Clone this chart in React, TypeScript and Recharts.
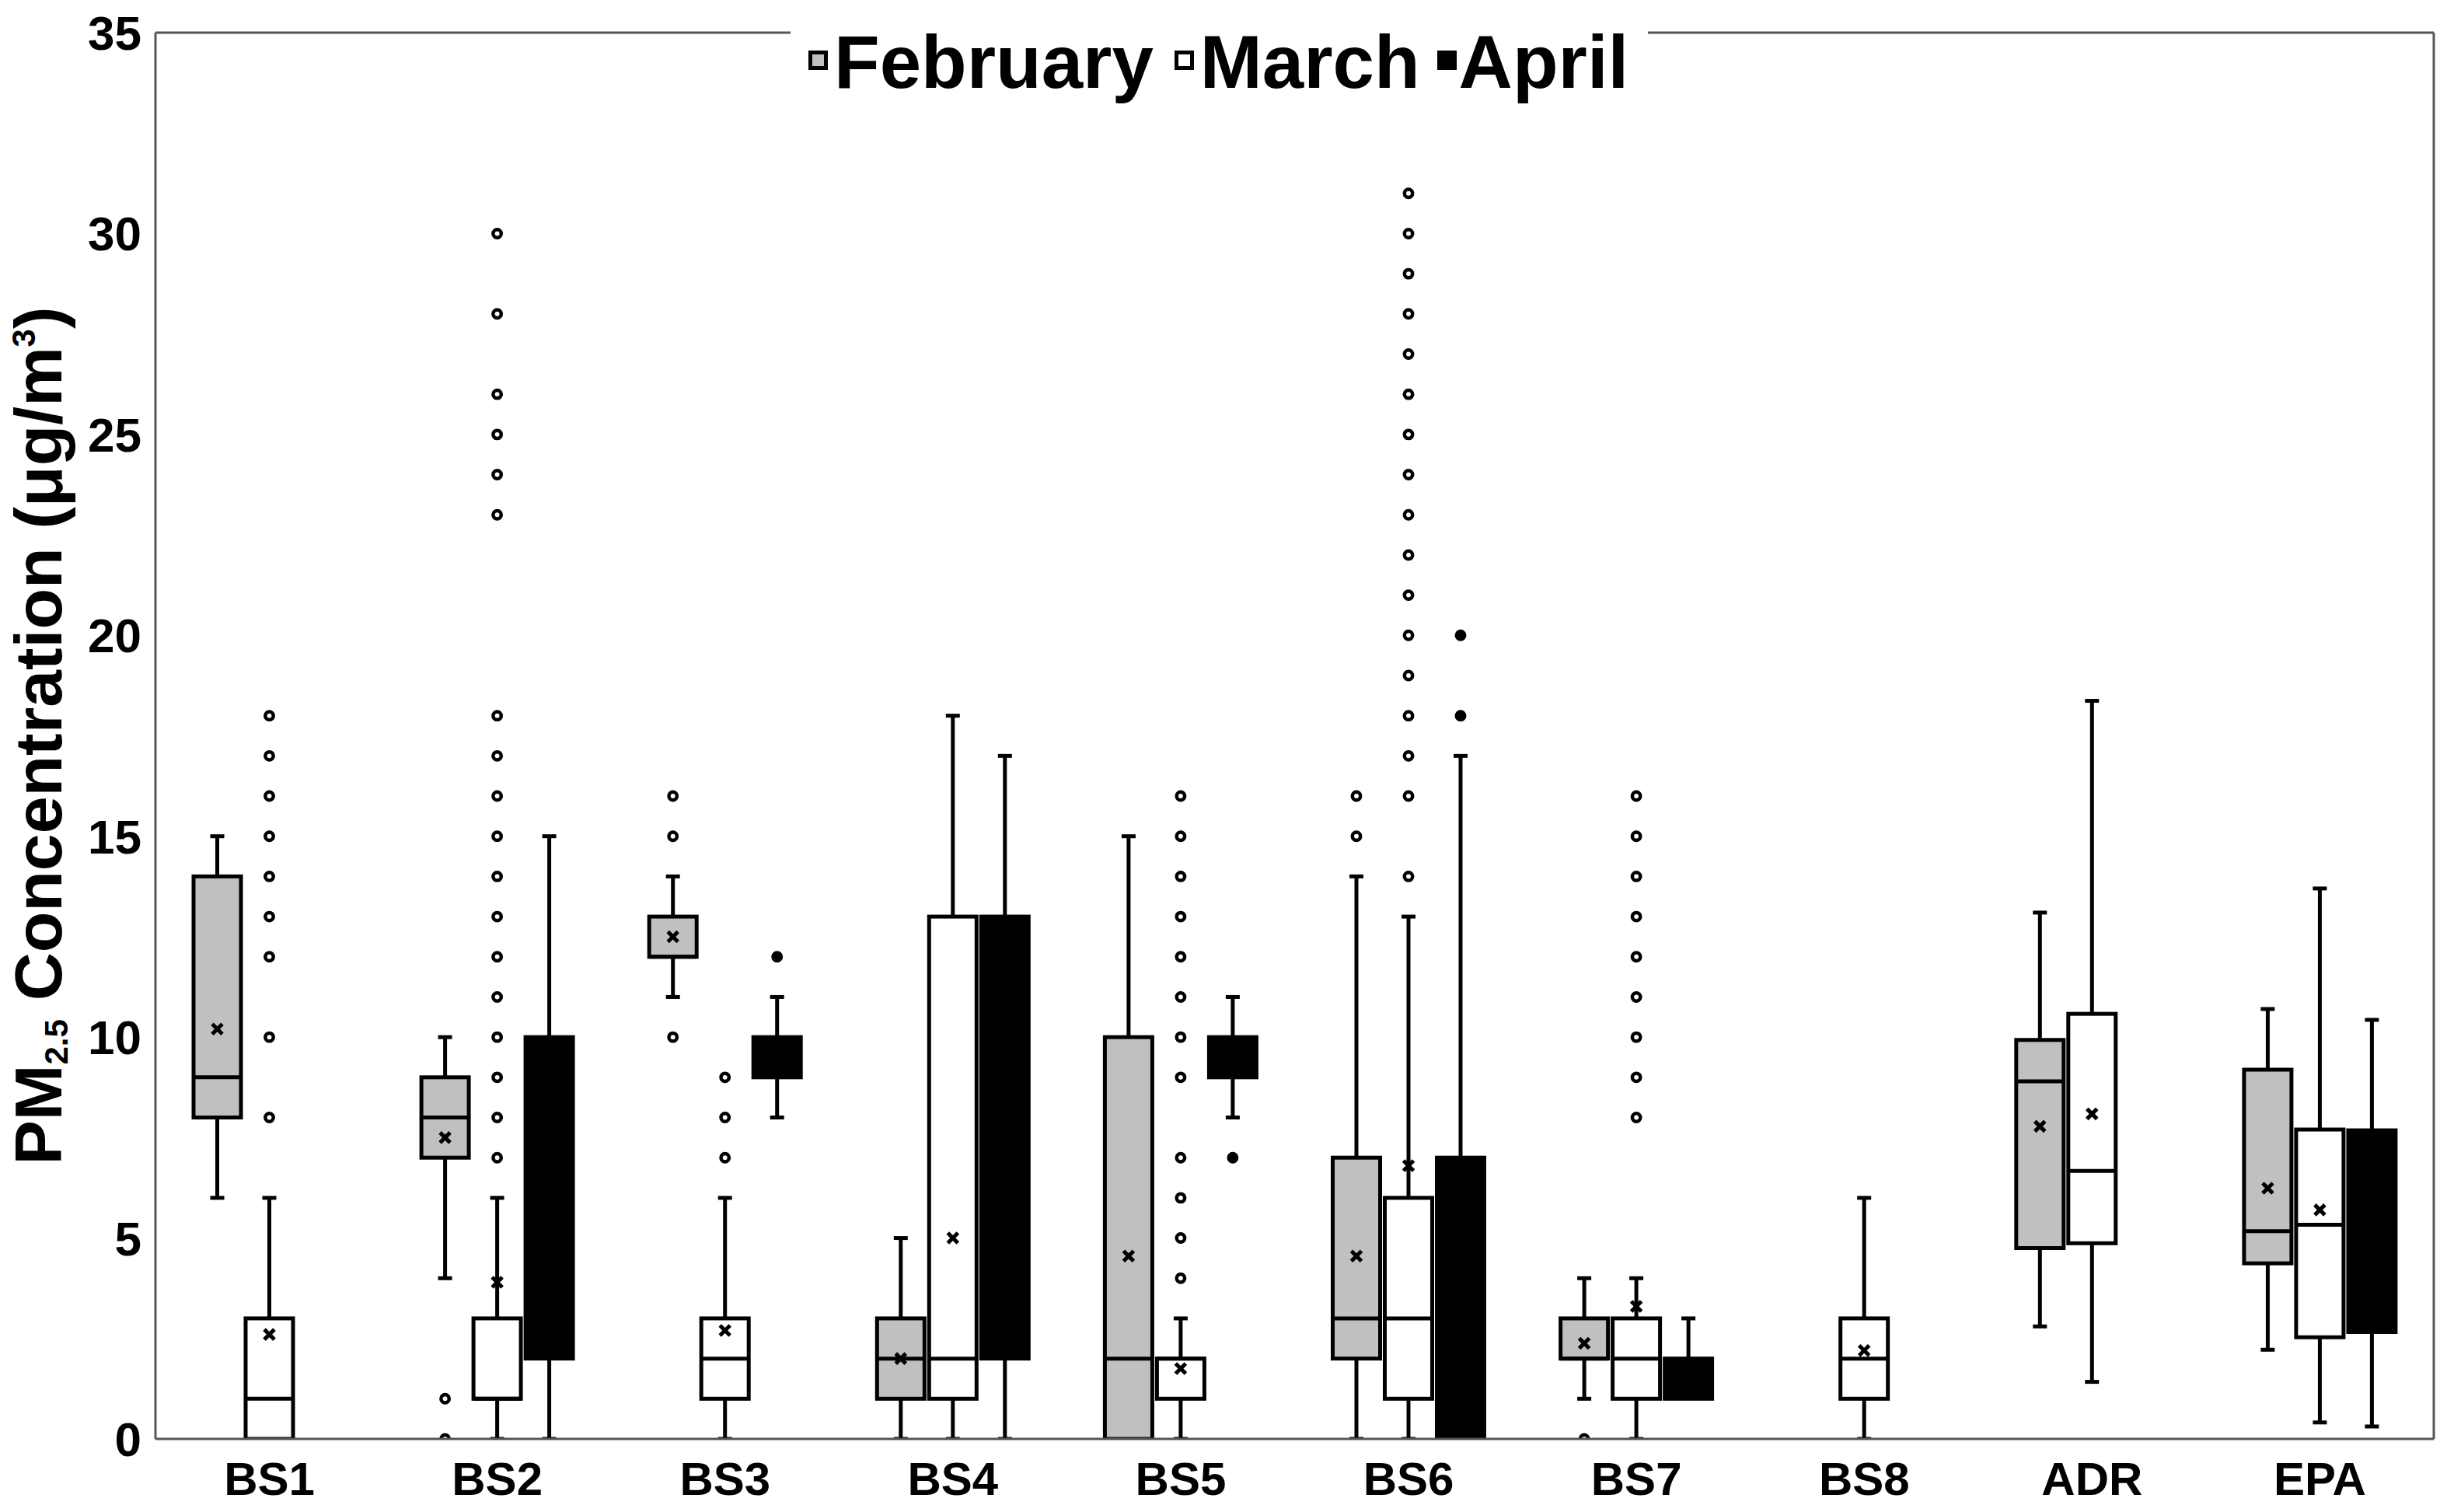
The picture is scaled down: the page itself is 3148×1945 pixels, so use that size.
import React from 'react';
import { ComposedChart, Bar, XAxis, YAxis } from 'recharts';

const FONT = "'Liberation Sans', Arial, Helvetica, sans-serif";

const categories = ['BS1', 'BS2', 'BS3', 'BS4', 'BS5', 'BS6', 'BS7', 'BS8', 'ADR', 'EPA'];
const yTicks = [0, 5, 10, 15, 20, 25, 30, 35];
const seriesNames = ['February', 'March', 'April'];
const seriesFills = ['#c0c0c0', '#ffffff', '#000000'];
const outlierFills = ['#ffffff', '#ffffff', '#000000'];

// February
const febMin = [6, 4, 11, 0, 0, 0, 1, null, 2.8, 2.22];
const febQ1 = [8, 7, 12, 1, 0, 2, 2, null, 4.75, 4.37];
const febMedian = [9, 8, 12, 2, 2, 3, 2, null, 8.9, 5.17];
const febQ3 = [14, 9, 13, 3, 10, 7, 3, null, 9.93, 9.19];
const febMax = [15, 10, 14, 5, 15, 14, 4, null, 13.1, 10.7];
const febMean = [10.2, 7.5, 12.5, 2.0, 4.55, 4.55, 2.38, null, 7.78, 6.24];
const febOutliers = [[], [0, 1], [10, 15, 16], [], [], [15, 16], [0], [], [], []];

// March
const marMin = [0, 0, 0, 0, 0, 0, 0, 0, 1.42, 0.41];
const marQ1 = [0, 1, 1, 1, 1, 1, 1, 1, 4.87, 2.53];
const marMedian = [1, 1, 2, 2, 2, 3, 2, 2, 6.67, 5.33];
const marQ3 = [3, 3, 3, 13, 2, 6, 3, 3, 10.58, 7.7];
const marMax = [6, 6, 6, 18, 3, 13, 4, 6, 18.37, 13.7];
const marMean = [2.6, 3.9, 2.7, 5.0, 1.75, 6.8, 3.3, 2.2, 8.09, 5.7];
const marOutliers = [
  [8, 10, 12, 13, 14, 15, 16, 17, 18],
  [7, 8, 9, 10, 11, 12, 13, 14, 15, 16, 17, 18, 23, 24, 25, 26, 28, 30],
  [7, 8, 9],
  [],
  [4, 5, 6, 7, 9, 10, 11, 12, 13, 14, 15, 16],
  [14, 16, 17, 18, 19, 20, 21, 22, 23, 24, 25, 26, 27, 28, 29, 30, 31],
  [8, 9, 10, 11, 12, 13, 14, 15, 16],
  [],
  [],
  [],
];

// April
const aprMin = [null, 0, 8, 0, 8, 0, 1, null, null, 0.31];
const aprQ1 = [null, 2, 9, 2, 9, 0, 1, null, null, 2.66];
const aprMedian = [null, 5, 9.5, 5, 9.5, 3, 1.5, null, null, 5.3];
const aprQ3 = [null, 10, 10, 13, 10, 7, 2, null, null, 7.68];
const aprMax = [null, 15, 11, 17, 11, 17, 3, null, null, 10.43];
const aprMean = [null, 6, 9.6, 6.5, 9.4, 4.5, 1.6, null, null, 5.4];
const aprOutliers = [[], [], [12], [], [7], [18, 20], [], [], [], []];

type Stats = { min: number; q1: number; median: number; q3: number; max: number; mean: number; outliers: number[] };

const buildStats = (
  mins: (number | null)[], q1s: (number | null)[], meds: (number | null)[], q3s: (number | null)[],
  maxs: (number | null)[], means: (number | null)[], outs: number[][], i: number
): Stats | null => {
  if (mins[i] == null) return null;
  return {
    min: mins[i] as number, q1: q1s[i] as number, median: meds[i] as number, q3: q3s[i] as number,
    max: maxs[i] as number, mean: means[i] as number, outliers: outs[i],
  };
};

const data = categories.map((name, i) => ({
  name,
  feb: buildStats(febMin, febQ1, febMedian, febQ3, febMax, febMean, febOutliers, i),
  mar: buildStats(marMin, marQ1, marMedian, marQ3, marMax, marMean, marOutliers, i),
  apr: buildStats(aprMin, aprQ1, aprMedian, aprQ3, aprMax, aprMean, aprOutliers, i),
}));

const seriesKeys = ['feb', 'mar', 'apr'];

const makeBoxShape = (key: string, fill: string, dotFill: string) => (props: any) => {
  const { x, y, width, height, payload } = props;
  const s: Stats | null = payload ? payload[key] : null;
  if (!s || !isFinite(y) || !isFinite(height) || !isFinite(x)) return <g />;
  const top = Math.min(y, y + height);
  const bottom = Math.max(y, y + height);
  const span = s.max - s.min;
  const py = (v: number) => bottom - ((bottom - top) * (v - s.min)) / span;
  const cx = x + width / 2;
  const sw = 5;
  const capHalf = 9;
  const boxTop = py(s.q3);
  const boxBottom = py(s.q1);
  const my = py(s.mean);
  const mk = 6.5;
  return (
    <g>
      {s.max > s.q3 && <line x1={cx} x2={cx} y1={py(s.max)} y2={boxTop} stroke="#000" strokeWidth={sw} />}
      {s.q1 > s.min && <line x1={cx} x2={cx} y1={boxBottom} y2={py(s.min)} stroke="#000" strokeWidth={sw} />}
      {s.max > s.q3 && <line x1={cx - capHalf} x2={cx + capHalf} y1={py(s.max)} y2={py(s.max)} stroke="#000" strokeWidth={sw} />}
      {s.q1 > s.min && <line x1={cx - capHalf} x2={cx + capHalf} y1={py(s.min)} y2={py(s.min)} stroke="#000" strokeWidth={sw} />}
      <rect x={x} y={boxTop} width={width} height={Math.max(0, boxBottom - boxTop)} fill={fill} stroke="#000" strokeWidth={sw} />
      <line x1={x} x2={x + width} y1={py(s.median)} y2={py(s.median)} stroke="#000" strokeWidth={sw} />
      <line x1={cx - mk} x2={cx + mk} y1={my - mk} y2={my + mk} stroke="#000" strokeWidth={5} />
      <line x1={cx - mk} x2={cx + mk} y1={my + mk} y2={my - mk} stroke="#000" strokeWidth={5} />
      {s.outliers.map((o, j) => (
        <circle key={j} cx={cx} cy={py(o)} r={5.2} fill={dotFill} stroke="#000" strokeWidth={4.5} />
      ))}
    </g>
  );
};

const shapes = seriesKeys.map((k, i) => makeBoxShape(k, seriesFills[i], outlierFills[i]));

const renderYLabel = (props: any) => {
  const vb = props.viewBox || { x: 0, y: 42, width: 200, height: 1809 };
  const cx = vb.x + 79;
  const cy = vb.y + vb.height / 2;
  return (
    <text
      x={cx}
      y={cy}
      transform={`rotate(-90, ${cx}, ${cy})`}
      textAnchor="middle"
      fontSize={86}
      fontWeight="bold"
      fontFamily={FONT}
      fill="#000"
    >
      PM
      <tspan fontSize={42} dy={8}>2.5</tspan>
      <tspan dy={-8}> Concentration (μg/m</tspan>
      <tspan fontSize={42} dy={-34}>3</tspan>
      <tspan dy={34}>)</tspan>
    </text>
  );
};

const borderStroke = { stroke: '#555555', strokeWidth: 3 };

const LegendBox = () => (
  <div
    style={{
      position: 'absolute',
      left: 1017,
      top: 10,
      width: 1103,
      height: 125,
      background: '#fff',
      zIndex: 2,
    }}
  >
    <div
      style={{
        position: 'absolute',
        left: 23,
        top: 22,
        height: 96,
        display: 'flex',
        flexDirection: 'row',
        alignItems: 'flex-start',
        fontFamily: FONT,
        fontWeight: 'bold',
        fontSize: 96,
        lineHeight: '96px',
        color: '#000',
        whiteSpace: 'nowrap',
      }}
    >
      {seriesNames.map((n, i) => (
        <React.Fragment key={n}>
          <span
            style={{
              display: 'inline-block',
              boxSizing: 'border-box',
              width: 25,
              height: 25,
              marginTop: 33,
              border: '5px solid #000',
              background: seriesFills[i],
              marginRight: i === 2 ? 3 : 8,
            }}
          />
          <span style={{ marginRight: i === 0 ? 27 : i === 1 ? 22 : 0 }}>{n}</span>
        </React.Fragment>
      ))}
    </div>
  </div>
);

export default function App() {
  return (
    <div style={{ position: 'relative', width: 3148, height: 1945, background: '#fff' }}>
      <style>{`body{margin:0;background:#fff;}`}</style>
      <ComposedChart
        width={3148}
        height={1945}
        data={data}
        margin={{ top: 41, right: 0, bottom: 0, left: 0 }}
        barSize={61}
        barGap={6}
      >
        <XAxis
          dataKey="name"
          height={94}
          axisLine={borderStroke}
          tickLine={false}
          tickSize={0}
          tickMargin={29}
          interval={0}
          tick={{ fill: '#000', fontSize: 60, fontWeight: 'bold', fontFamily: FONT }}
        />
        <XAxis
          xAxisId="top"
          orientation="top"
          dataKey="name"
          height={1}
          axisLine={borderStroke}
          tick={false}
          tickLine={false}
        />
        <YAxis
          width={200}
          type="number"
          domain={[yTicks[0], yTicks[yTicks.length - 1]]}
          ticks={yTicks}
          interval={0}
          allowDataOverflow
          axisLine={borderStroke}
          tickLine={false}
          tickSize={0}
          tickMargin={18}
          tick={{ fill: '#000', fontSize: 62, fontWeight: 'bold', fontFamily: FONT }}
          label={renderYLabel}
        />
        <YAxis
          yAxisId="right"
          orientation="right"
          width={17}
          type="number"
          domain={[yTicks[0], yTicks[yTicks.length - 1]]}
          axisLine={borderStroke}
          tick={false}
          tickLine={false}
        />
        {seriesKeys.map((k, i) => (
          <Bar
            key={k}
            name={seriesNames[i]}
            dataKey={(d: any) => (d[k] ? [d[k].min, d[k].max] : null)}
            shape={shapes[i]}
            isAnimationActive={false}
          />
        ))}
      </ComposedChart>
      <LegendBox />
    </div>
  );
}
